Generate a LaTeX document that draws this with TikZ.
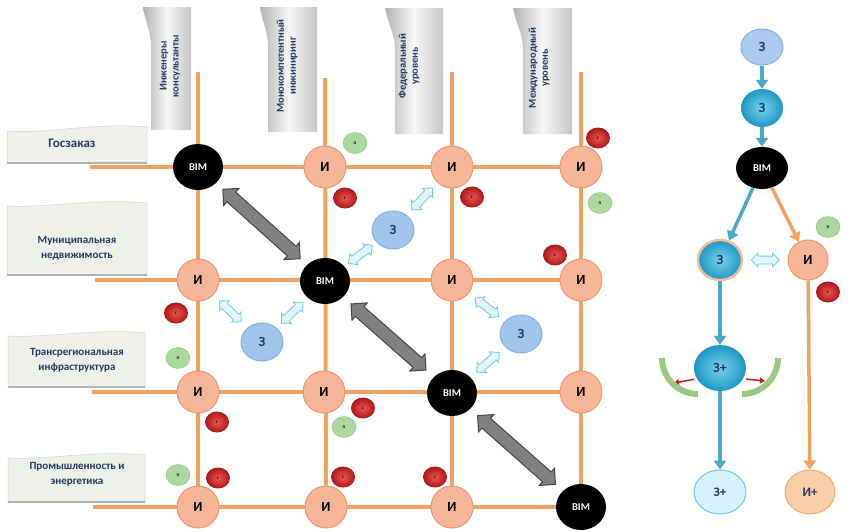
\documentclass[tikz,border=0pt]{standalone}
\usepackage{fontspec}
\setmainfont{Carlito}
\usetikzlibrary{positioning,shapes.geometric,shapes.arrows,arrows.meta,backgrounds}

\definecolor{gridorange}{RGB}{240,162,98}
\definecolor{ifill}{RGB}{248,182,152}
\definecolor{iborder}{RGB}{236,150,112}
\definecolor{zfill}{RGB}{160,196,236}
\definecolor{zborder}{RGB}{138,176,222}
\definecolor{pfill}{RGB}{172,216,160}
\definecolor{pborder}{RGB}{140,192,128}
\definecolor{cred}{RGB}{196,30,32}
\definecolor{cin}{RGB}{236,86,80}
\definecolor{cout}{RGB}{172,22,24}
\definecolor{lightfill}{RGB}{222,246,252}
\definecolor{lightdraw}{RGB}{116,200,228}
\definecolor{greyfill}{RGB}{128,128,128}
\definecolor{greydraw}{RGB}{72,72,72}
\definecolor{tealin}{RGB}{120,212,238}
\definecolor{tealout}{RGB}{30,150,196}
\definecolor{tealline}{RGB}{72,170,200}
\definecolor{palefill}{RGB}{214,240,252}
\definecolor{iplusfill}{RGB}{250,206,166}
\definecolor{iplusdraw}{RGB}{240,170,110}
\definecolor{arcgreen}{RGB}{156,198,132}
\definecolor{navy}{RGB}{34,58,98}
\definecolor{rowfill}{RGB}{238,240,234}
\definecolor{halo}{RGB}{238,190,150}

\begin{document}
\begin{tikzpicture}[x=1pt,y=-1pt,on grid,
    inode/.style={circle,draw=iborder,fill=ifill,line width=1pt,minimum size=42pt,inner sep=0pt,font=\bfseries\fontsize{14}{14}\selectfont},
    bim/.style={ellipse,fill=black,text=white,minimum width=50pt,minimum height=46pt,inner sep=0pt,font=\bfseries\fontsize{10.5}{10.5}\selectfont},
    zed/.style={ellipse,draw=zborder,fill=zfill,line width=1pt,minimum width=42pt,minimum height=38pt,inner sep=0pt,text=navy,font=\bfseries\fontsize{14}{14}\selectfont},
    tball/.style={ellipse,inner color=tealin,outer color=tealout,minimum width=42pt,minimum height=38pt,inner sep=0pt,text=navy,font=\bfseries\fontsize{14}{14}\selectfont},
    pn/.style={ellipse,draw=pborder,fill=pfill,minimum width=24pt,minimum height=21pt,inner sep=0pt,font=\bfseries\fontsize{5}{5}\selectfont},
    cn/.style={ellipse,inner color=cin,outer color=cout,minimum width=24pt,minimum height=21pt,inner sep=0pt,font=\bfseries\fontsize{5}{5}\selectfont},
    gline/.style={draw=gridorange,line width=4pt},
    lightarr/.style={double arrow,draw=lightdraw,fill=lightfill,line width=0.8pt,minimum height=30pt,inner xsep=0pt,inner ysep=3.5pt,double arrow head extend=3pt,sloped},
    greyarr/.style={double arrow,draw=greydraw,fill=greyfill,line width=1pt,minimum height=104pt,inner xsep=0pt,inner ysep=6pt,double arrow head extend=5pt,sloped},
    tarr/.style={draw=tealline,line width=3.5pt,-{Triangle[length=9pt,width=12pt]}},
    oarr/.style={draw=gridorange,line width=3.5pt,-{Triangle[length=9pt,width=12pt]}},
    redarr/.style={draw=cred,line width=1.5pt,-{Triangle[length=5pt,width=6pt]},shorten <=3pt},
    greenarc/.style={draw=arcgreen,line width=6pt},
    header/.style={left color=gray!60,right color=gray!45,middle color=white!94!gray},
    htext/.style={rotate=90,align=center,text=navy,font=\bfseries\fontsize{10.5}{12}\selectfont},
    rowbox/.style={fill=rowfill,draw=gray!35,line width=0.5pt},
    rowedge/.style={draw=gray!60,line width=2pt},
    rtext/.style={align=center,text=navy,font=\bfseries\fontsize{11}{15}\selectfont}]
\useasboundingbox (0,0) rectangle (867,531);

% column headers
\shade[header] (143,7) .. controls (146,25) and (151,30) .. (151,50) -- (151,130) -- (191,130) -- (191,7) -- cycle;
\shade[header] (260,7) .. controls (263,25) and (268,30) .. (268,50) -- (268,132) -- (317,132) -- (317,7) -- cycle;
\shade[header] (385,8) .. controls (389,28) and (395,32) .. (395,52) -- (395,134) -- (443,134) -- (443,8) -- cycle;
\shade[header] (513,8) .. controls (517,28) and (523,32) .. (523,52) -- (523,134) -- (572,134) -- (572,8) -- cycle;
\node[htext] (h1) at (170,66) {Инженеры\\консультанты};
\node[htext] (h2) at (287,66) {Монокомпетентный\\инжиниринг};
\node[htext] (h3) at (409,66) {Федеральный\\уровень};
\node[htext] (h4) at (539,68) {Международный\\уровень};

% row labels
\fill[rowbox] (7,131) .. controls (50,134) and (95,122) .. (147,127) -- (147,163) -- (7,163) -- cycle;
\fill[rowbox] (7,206) .. controls (50,208) and (95,198) .. (147,203) -- (147,275) -- (7,275) -- cycle;
\fill[rowbox] (8,336) .. controls (50,338) and (95,328) .. (145,333) -- (145,387) -- (8,387) -- cycle;
\fill[rowbox] (8,458) .. controls (50,460) and (95,450) .. (145,455) -- (145,502) -- (8,502) -- cycle;
\draw[rowedge] (7,163) -- (147,163);
\draw[rowedge] (7,275) -- (147,275);
\draw[rowedge] (8,387) -- (145,387);
\draw[rowedge] (8,502) -- (145,502);
\node[rtext,font=\bfseries\fontsize{13}{13}\selectfont] (r1) at (72,143) {Госзаказ};
\node[rtext] (r2) at (77,248) {Муниципальная\\недвижимость};
\node[rtext] (r3) at (77,360) {Трансрегиональная\\инфраструктура};
\node[rtext] (r4) at (77,474) {Промышленность и\\энергетика};

% grid
\node[bim] (b11) at (198,167) {BIM};
\node[inode] (i12) at (325,167) {И};
\node[inode] (i13) at (452,167) {И};
\node[inode] (i14) at (581,167) {И};
\node[inode] (i21) at (198,280) {И};
\node[bim] (b22) at (325,281) {BIM};
\node[inode] (i23) at (452,280) {И};
\node[inode] (i24) at (581,280) {И};
\node[inode] (i31) at (198,392) {И};
\node[inode] (i32) at (324,392) {И};
\node[bim] (b33) at (452,393) {BIM};
\node[inode] (i34) at (581,392) {И};
\node[inode] (i41) at (198,507) {И};
\node[inode] (i42) at (326,507) {И};
\node[inode] (i43) at (452,507) {И};
\node[bim] (b44) at (581,507) {BIM};

\coordinate (l1) at (90,167);
\coordinate (l2) at (95,280);
\coordinate (l3) at (92,392);
\coordinate (l4) at (93,507);
\coordinate (t1) at (198,72);
\coordinate (t2) at (325,78);
\coordinate (t3) at (452,72);
\coordinate (t4) at (581,72);
\begin{scope}[on background layer]
  \draw[gline] (l1) -- (i14);
  \draw[gline] (l2) -- (i24);
  \draw[gline] (l3) -- (i34);
  \draw[gline] (l4) -- (b44);
  \draw[gline] (t1) -- (i41);
  \draw[gline] (t2) -- (i42);
  \draw[gline] (t3) -- (i43);
  \draw[gline] (t4) -- (b44);
\end{scope}

\node[zed] (z1) at (393,230) {З};
\node[zed] (z2) at (262,342) {З};
\node[zed] (z3) at (521,334) {З};

\node[pn] (p1) at (355,143) {п};
\node[pn] (p2) at (600,203) {п};
\node[pn] (p3) at (178,358) {п};
\node[pn] (p4) at (178,475) {п};
\node[pn] (p5) at (344,427) {п};
\node[cn] (c1) at (598,138) {с};
\node[cn] (c2) at (345,198) {с};
\node[cn] (c3) at (472,197) {с};
\node[cn] (c4) at (555,255) {с};
\node[cn] (c5) at (176,313) {с};
\node[cn] (c6) at (217,422) {с};
\node[cn] (c7) at (218,478) {с};
\node[cn] (c8) at (363,408) {с};
\node[cn] (c9) at (343,477) {с};
\node[cn] (c10) at (435,477) {с};

\path (b11) -- node[greyarr] {} (b22);
\path (b22) -- node[greyarr,minimum height=100pt] {} (b33);
\path (b33) -- node[greyarr] {} (b44);

\path (z1) -- node[lightarr] {} (i13);
\path (z1) -- node[lightarr] {} (b22);
\path (i21) -- node[lightarr] {} (z2);
\path (z2) -- node[lightarr] {} (b22);
\path (i23) -- node[lightarr] {} (z3);
\path (z3) -- node[lightarr] {} (b33);

% right scheme
\node[zed,fill=zfill!90!white,minimum height=36pt] (zin) at (762,47) {З};
\node[tball] (zmid) [below=61pt of zin] {З};
\node[bim,minimum width=52pt,minimum height=42pt] (rbim) [below=60pt of zmid] {BIM};
\node[tball,draw=halo,line width=2.5pt,minimum width=44pt,minimum height=40pt] (zsel) [below left=92pt and 42pt of rbim] {З};
\node[inode,minimum size=40pt] (irt) [right=88pt of zsel] {И};
\node[pn] (p6) at (828,227) {п};
\node[cn] (c11) at (828,292) {с};
\node[tball,minimum width=52pt,minimum height=46pt] (zplus) [below=108pt of zsel] {З+};
\node[ellipse,draw=lightdraw,fill=palefill,line width=1pt,minimum width=52pt,minimum height=44pt,inner sep=0pt,text=navy,font=\bfseries\fontsize{13}{13}\selectfont] (zout) [below=124pt of zplus] {З+};
\node[ellipse,draw=iplusdraw,fill=iplusfill,line width=1pt,minimum width=50pt,minimum height=44pt,inner sep=0pt,text=navy,font=\bfseries\fontsize{13}{13}\selectfont] (iout) [right=90pt of zout] {И+};

\draw[tarr] (zin) -- (zmid);
\draw[tarr] (zmid) -- (rbim);
\draw[tarr] (rbim) -- (zsel);
\draw[oarr] (rbim) -- (irt);
\draw[tarr] (zsel) -- (zplus);
\draw[tarr] (zplus) -- (zout);
\draw[oarr] (irt) -- (iout);
\path (zsel) -- node[lightarr,minimum height=28pt] {} (irt);

\coordinate (rl) at (674,383);
\coordinate (rr) at (765,381);
\draw[redarr] (zplus.205) -- (rl);
\draw[redarr] (zplus.335) -- (rr);
\draw[greenarc] ([shift={(-58,-10)}]zplus.center) arc[start angle=180,end angle=270,radius=36pt];
\draw[greenarc] ([shift={(22,26)}]zplus.center) arc[start angle=270,end angle=360,radius=36pt];
\end{tikzpicture}
\end{document}
